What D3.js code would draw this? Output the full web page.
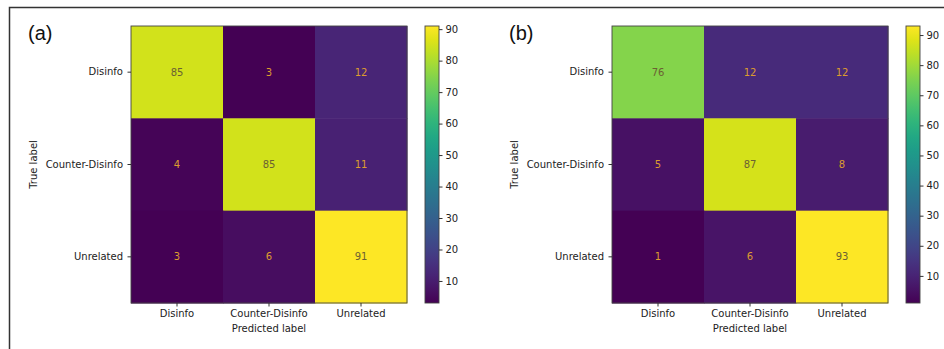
<!DOCTYPE html>
<html>
<head>
<meta charset="utf-8">
<script src="https://cdn.jsdelivr.net/npm/d3@7"></script>
<style>
  html, body { margin: 0; padding: 0; background: #fff; }
  svg text { font-family: "DejaVu Sans", sans-serif; }
</style>
</head>
<body>
<div id="chart"></div>
<script>
// Confusion matrices (rows = true label, cols = predicted label)
const classLabels = ['Disinfo', 'Counter-Disinfo', 'Unrelated'];
const matrixA = [[85, 3, 12], [4, 85, 11], [3, 6, 91]];
const matrixB = [[76, 12, 12], [5, 87, 8], [1, 6, 93]];
const colorbarTicks = [10, 20, 30, 40, 50, 60, 70, 80, 90];
const panelTags = ['(a)', '(b)'];

const width = 944, height = 349;

const svg = d3.select('#chart')
  .append('svg')
  .attr('width', width)
  .attr('height', height);

// outer frame (only left / top edges visible in the crop)
svg.append('path')
  .attr('d', `M9.5,${height} V7.5 H${width}`)
  .attr('fill', 'none')
  .attr('stroke', '#333')
  .attr('stroke-width', 1.5);

// viridis gradient for the colorbars
const grad = svg.append('defs').append('linearGradient')
  .attr('id', 'viridis')
  .attr('x1', 0).attr('y1', 1).attr('x2', 0).attr('y2', 0);
d3.range(0, 1.0001, 0.05).forEach(t => {
  grad.append('stop')
    .attr('offset', t)
    .attr('stop-color', d3.interpolateViridis(t));
});

function drawPanel(matrix, tag, offsetX) {
  const g = svg.append('g').attr('transform', `translate(${offsetX},0)`);

  const left = 131, right = 407, top = 26, bottom = 303;
  const flat = matrix.flat();
  const vmin = d3.min(flat), vmax = d3.max(flat);
  const color = d3.scaleSequential(d3.interpolateViridis).domain([vmin, vmax]);
  const mid = (vmin + vmax) / 2;

  const x = d3.scaleBand().domain(classLabels).range([left, right]);
  const y = d3.scaleBand().domain(classLabels).range([top, bottom]);

  // cells
  const cells = [];
  matrix.forEach((row, i) => row.forEach((v, j) => {
    cells.push({ t: classLabels[i], p: classLabels[j], v });
  }));

  g.append('g').selectAll('rect')
    .data(cells)
    .join('rect')
    .attr('x', d => x(d.p))
    .attr('y', d => y(d.t))
    .attr('width', x.bandwidth() + 0.5)
    .attr('height', y.bandwidth() + 0.5)
    .attr('fill', d => color(d.v));

  g.append('g').selectAll('text')
    .data(cells)
    .join('text')
    .attr('x', d => x(d.p) + x.bandwidth() / 2)
    .attr('y', d => y(d.t) + y.bandwidth() / 2)
    .attr('dy', '0.36em')
    .attr('text-anchor', 'middle')
    .attr('font-size', 10)
    .attr('fill', d => d.v > mid ? '#6b6133' : '#dc9c2e')
    .text(d => d.v);

  // spine
  g.append('rect')
    .attr('x', left).attr('y', top)
    .attr('width', right - left).attr('height', bottom - top)
    .attr('fill', 'none')
    .attr('stroke', '#444')
    .attr('stroke-width', 0.9);

  // axes
  const xAxis = g.append('g')
    .attr('transform', `translate(0,${bottom})`)
    .call(d3.axisBottom(x).tickSize(3.5).tickPadding(3.5));
  const yAxis = g.append('g')
    .attr('transform', `translate(${left},0)`)
    .call(d3.axisLeft(y).tickSize(3.5).tickPadding(4.5));
  [xAxis, yAxis].forEach(a => {
    a.select('.domain').remove();
    a.selectAll('line').attr('stroke', '#333');
    a.selectAll('text')
      .attr('font-size', 10)
      .attr('fill', '#222')
      .style('font-family', '"DejaVu Sans", sans-serif');
  });

  g.append('text')
    .attr('x', (left + right) / 2)
    .attr('y', 332)
    .attr('text-anchor', 'middle')
    .attr('font-size', 10)
    .attr('fill', '#222')
    .text('Predicted label');

  g.append('text')
    .attr('transform', `translate(37,${(top + bottom) / 2}) rotate(-90)`)
    .attr('text-anchor', 'middle')
    .attr('font-size', 10)
    .attr('fill', '#222')
    .text('True label');

  // colorbar
  const cbLeft = 425, cbWidth = 14;
  const cbScale = d3.scaleLinear().domain([vmin, vmax]).range([bottom, top]);
  g.append('rect')
    .attr('x', cbLeft).attr('y', top)
    .attr('width', cbWidth).attr('height', bottom - top)
    .attr('fill', 'url(#viridis)')
    .attr('stroke', '#444')
    .attr('stroke-width', 0.9);
  const cbAxis = g.append('g')
    .attr('transform', `translate(${cbLeft + cbWidth},0)`)
    .call(d3.axisRight(cbScale).tickValues(colorbarTicks).tickSize(3.5).tickPadding(3));
  cbAxis.select('.domain').remove();
  cbAxis.selectAll('line').attr('stroke', '#333');
  cbAxis.selectAll('text')
    .attr('font-size', 10)
    .attr('fill', '#222')
    .style('font-family', '"DejaVu Sans", sans-serif');

  // panel tag
  g.append('text')
    .attr('x', 28)
    .attr('y', 40)
    .attr('font-size', 20)
    .attr('fill', '#111')
    .style('font-family', '"Liberation Sans", Arial, sans-serif')
    .text(tag);
}

drawPanel(matrixA, panelTags[0], 0);
drawPanel(matrixB, panelTags[1], 481);
</script>
</body>
</html>
